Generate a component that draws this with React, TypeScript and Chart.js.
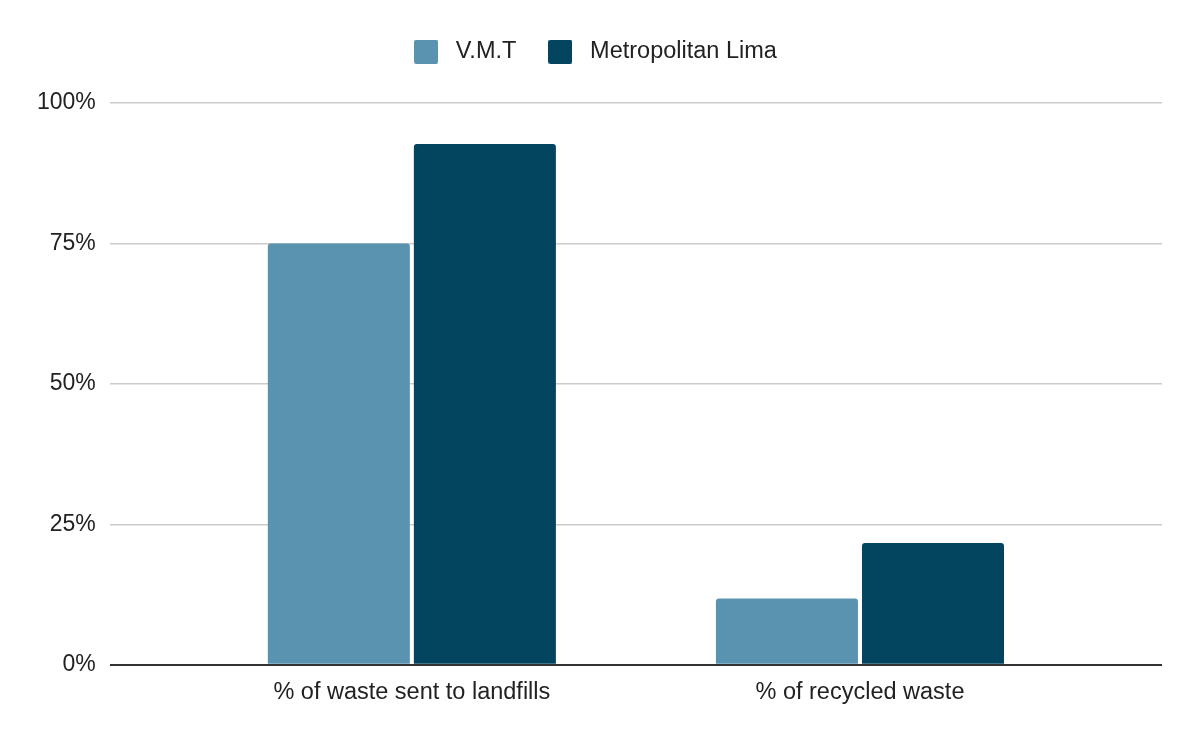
import React, { useEffect, useRef } from "react";
import { Chart, registerables } from "chart.js";

Chart.register(...registerables);

const categories = ["% of waste sent to landfills", "% of recycled waste"];
const seriesNames = ["V.M.T", "Metropolitan Lima"];
const vmtValues = [75, 11.8];
const limaValues = [92.7, 21.7];
const yTicks = [0, 25, 50, 75, 100];
const colors = ["#5A93AF", "#03455F"];

const FONT = "'Liberation Sans', Arial, Helvetica, sans-serif";

function makeBox(color: string): HTMLCanvasElement {
  const c = document.createElement("canvas");
  c.width = 24;
  c.height = 24;
  const ctx = c.getContext("2d")!;
  ctx.fillStyle = color;
  ctx.beginPath();
  (ctx as any).roundRect ? (ctx as any).roundRect(0, 0, 24, 24, 2) : ctx.rect(0, 0, 24, 24);
  ctx.fill();
  return c;
}

const legendHeightPlugin = {
  id: "legendHeight",
  beforeLayout(chart: any) {
    const lg = chart.legend;
    if (lg && !lg._patchedFit) {
      const orig = lg.fit.bind(lg);
      lg.fit = function () {
        orig();
        this.height = 89;
      };
      lg._patchedFit = true;
    }
  },
};

export default function App() {
  const ref = useRef<HTMLCanvasElement | null>(null);

  useEffect(() => {
    if (!ref.current) return;
    const boxes = colors.map(makeBox);
    const chart = new Chart(ref.current, {
      type: "bar",
      data: {
        labels: categories,
        datasets: [
          {
            label: seriesNames[0],
            data: vmtValues,
            backgroundColor: colors[0],
            borderRadius: 3,
            categoryPercentage: 0.6518,
            barPercentage: 0.9726,
          },
          {
            label: seriesNames[1],
            data: limaValues,
            backgroundColor: colors[1],
            borderRadius: 3,
            categoryPercentage: 0.6518,
            barPercentage: 0.9726,
          },
        ],
      },
      plugins: [legendHeightPlugin],
      options: {
        animation: false,
        responsive: true,
        maintainAspectRatio: false,
        layout: { padding: { left: 23, right: 38, top: 14, bottom: 21 } },
        plugins: {
          tooltip: { enabled: false },
          legend: {
            position: "top",
            align: "center",
            labels: {
              usePointStyle: true,
              pointStyleWidth: 36,
              padding: 26,
              color: "#222222",
              font: { family: FONT, size: 23.5 },
              generateLabels: (c: any) => {
                const items = (Chart.defaults.plugins.legend.labels as any).generateLabels(c);
                items.forEach((it: any, i: number) => {
                  it.pointStyle = boxes[i];
                });
                return items;
              },
            },
          },
        },
        scales: {
          x: {
            grid: { display: false, drawTicks: false },
            border: { display: false },
            ticks: {
              padding: 14,
              color: "#222222",
              font: { family: FONT, size: 23.5 },
            },
            afterBuildTicks: (scale: any) => {
              scale._startValue = -0.674;
              scale._valueRange = 2.348;
            },
          },
          y: {
            min: 0,
            max: 100,
            afterBuildTicks: (scale: any) => {
              scale.ticks = yTicks.map((v) => ({ value: v }));
            },
            grid: {
              drawTicks: false,
              lineWidth: (ctx: any) => (ctx.tick && ctx.tick.value === 0 ? 2 : 1.5),
              color: (ctx: any) => (ctx.tick && ctx.tick.value === 0 ? "#333333" : "#cccccc"),
            },
            border: { display: false },
            ticks: {
              padding: 14,
              color: "#222222",
              font: { family: FONT, size: 23 },
              callback: (v: any) => v + "%",
            },
          },
        },
      },
    });
    return () => chart.destroy();
  }, []);

  return (
    <div style={{ position: "absolute", left: 0, top: 0, width: 1200, height: 742, background: "#fff" }}>
      <canvas ref={ref} />
    </div>
  );
}
